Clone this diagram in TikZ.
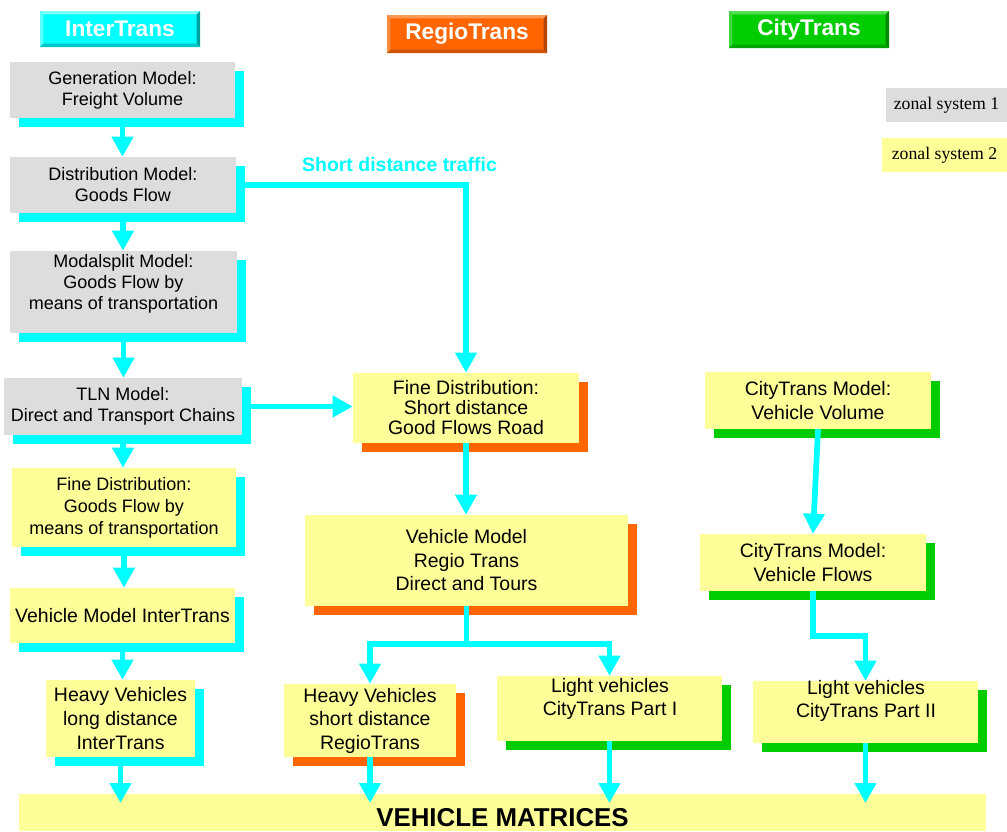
\documentclass[tikz,border=0pt]{standalone}
\usepackage{fontspec}
\setmainfont{Liberation Sans}
\newfontfamily\legendfont{Liberation Serif}
\usetikzlibrary{arrows.meta,shadows}

\definecolor{flowcyan}{HTML}{00FFFF}
\definecolor{boxgray}{HTML}{DDDDDD}
\definecolor{boxyellow}{HTML}{FFFF99}
\definecolor{regioorange}{HTML}{FF6600}
\definecolor{citygreen}{HTML}{00CC00}
\definecolor{interLight}{HTML}{80FFFF}
\definecolor{interDark}{HTML}{00A0A0}
\definecolor{regioLight}{HTML}{FF9955}
\definecolor{regioDark}{HTML}{B04600}
\definecolor{cityLight}{HTML}{55DD55}
\definecolor{cityDark}{HTML}{008A00}

\begin{document}
\begin{tikzpicture}[x=0.75pt,y=-0.75pt,
  wh/.style 2 args={minimum width=#1*0.75pt, minimum height=#2*0.75pt},
  box/.style={inner sep=0pt, align=center, draw=none},
  sA/.style={font=\fontsize{13.5}{15.75}\selectfont},
  sB/.style={font=\fontsize{14.6}{17.6}\selectfont},
  shad/.style={general shadow={fill=#1, shadow xshift=7.1pt, shadow yshift=-7.1pt}},
  grayA/.style={box, fill=boxgray, shad=flowcyan, sA},
  yelA/.style={box, fill=boxyellow, shad=flowcyan, sA},
  yelI/.style={box, fill=boxyellow, shad=flowcyan, sB},
  yelR/.style={box, fill=boxyellow, shad=regioorange, sB},
  yelC/.style={box, fill=boxyellow, shad=citygreen, sB},
  bevel/.style n args={3}{fill=#1, inner sep=0pt, text=white,
    font=\bfseries\fontsize{17}{20}\selectfont,
    path picture={
      \fill[#2] (path picture bounding box.north west) -- (path picture bounding box.north east)
        -- ([xshift=-2.6pt,yshift=-2.6pt]path picture bounding box.north east)
        -- ([xshift=2.6pt,yshift=-2.6pt]path picture bounding box.north west) -- cycle;
      \fill[#2!70!#1] (path picture bounding box.north west) -- (path picture bounding box.south west)
        -- ([xshift=2.6pt,yshift=2.6pt]path picture bounding box.south west)
        -- ([xshift=2.6pt,yshift=-2.6pt]path picture bounding box.north west) -- cycle;
      \fill[#3] (path picture bounding box.north east) -- (path picture bounding box.south east)
        -- ([xshift=-2.6pt,yshift=2.6pt]path picture bounding box.south east)
        -- ([xshift=-2.6pt,yshift=-2.6pt]path picture bounding box.north east) -- cycle;
      \fill[#3!60!#1] (path picture bounding box.south west) -- (path picture bounding box.south east)
        -- ([xshift=-2.6pt,yshift=2.6pt]path picture bounding box.south east)
        -- ([xshift=2.6pt,yshift=2.6pt]path picture bounding box.south west) -- cycle;
    }},
  legend/.style={inner sep=0pt, font=\legendfont\fontsize{13.3}{15}\selectfont},
  flow/.style={draw=flowcyan, line width=4.3pt, line join=miter,
    -{Triangle[width=15.5pt,length=15pt]}}
]
\useasboundingbox (0,0) rectangle (1007,832);

% model headers
\node[bevel={flowcyan}{interLight}{interDark}, wh={160}{36}] (hinter) at (120,29) {InterTrans};
\node[bevel={regioorange}{regioLight}{regioDark}, wh={160}{38}] (hregio) at (467,34) {RegioTrans};
\node[bevel={citygreen}{cityLight}{cityDark}, wh={160}{37}] (hcity) at (809,29.5) {CityTrans};

% legend of zonal systems
\node[legend, fill=boxgray, wh={121}{34}] (zs1) at (946.5,105) {zonal system 1};
\node[legend, fill=boxyellow, wh={125}{34}] (zs2) at (944.5,155) {zonal system 2};

% InterTrans chain
\node[grayA, wh={225}{56}] (gen) at (122.5,90) {Generation Model:\\Freight Volume};
\node[grayA, wh={226}{56}] (dist) at (123,185) {Distribution Model:\\Goods Flow};
\node[grayA, wh={227}{82}] (modal) at (123.5,292) {};
\node[sA, align=center, inner sep=0pt] (modalt) at (123.5,284) {Modalsplit Model:\\Goods Flow by\\means of transportation};
\node[grayA, wh={238}{57}] (tln) at (123,406.5) {TLN Model:\\Direct and Transport Chains};
\node[yelA, wh={224}{79}, font=\fontsize{13.5}{16.4}\selectfont] (fdl) at (124,507.5) {Fine Distribution:\\Goods Flow by\\means of transportation};
\node[yelI, wh={225}{55}] (vmi) at (122.5,615.5) {Vehicle Model InterTrans};
\node[yelI, wh={149}{77}, font=\fontsize{14.6}{18}\selectfont] (hvl) at (120.5,718.5) {Heavy Vehicles\\long distance\\InterTrans};

% RegioTrans chain
\node[yelR, wh={226}{70}, font=\fontsize{14.6}{15}\selectfont] (fdm) at (466,408) {Fine Distribution:\\Short distance\\Good Flows Road};
\node[yelR, wh={323}{91}] (vmr) at (466.5,560.5) {Vehicle Model\\Regio Trans\\Direct and Tours};
\node[yelR, wh={172}{73}] (hvs) at (370,720.5) {Heavy Vehicles\\short distance\\RegioTrans};
\node[yelC, wh={225}{65}] (lv1) at (609.5,708.5) {};
\node[sB, align=center, inner sep=0pt] (lv1t) at (610,699) {Light vehicles\\CityTrans Part I};

% CityTrans chain
\node[yelC, wh={226}{57}] (ctv) at (818,400.5) {CityTrans Model:\\Vehicle Volume};
\node[yelC, wh={226}{57}] (ctf) at (813,562.5) {CityTrans Model:\\Vehicle Flows};
\node[yelC, wh={225}{62}] (lv2) at (865.5,712) {};
\node[sB, align=center, inner sep=0pt] (lv2t) at (866,701) {Light vehicles\\CityTrans Part II};

% result bar
\node[fill=boxyellow, inner sep=0pt, wh={967}{37}, text height=20.7pt,
  font=\bfseries\fontsize{19.4}{22}\selectfont] (vm) at (502.5,812.5) {VEHICLE MATRICES};
\coordinate (vmtop) at (502.5,803);

\node[text=flowcyan, inner sep=0pt, font=\bfseries\fontsize{14.6}{17}\selectfont] (sdt) at (399.5,165) {Short distance traffic};

% flows
\draw[flow] (gen.south) -- (gen.south |- dist.north);
\draw[flow] (dist.south) -- (dist.south |- modal.north);
\draw[flow] (modal.south) -- (modal.south |- tln.north);
\draw[flow] (tln.south) -- (tln.south |- fdl.north);
\draw[flow] (fdl.south) -- (fdl.south |- vmi.north);
\draw[flow] (vmi.south) -- (vmi.south |- hvl.north);
\draw[flow] (hvl.south) -- (hvl.south |- vmtop);

\draw[flow] (dist.east) -| (fdm.north);
\draw[flow] (tln.east) -- (tln.east -| fdm.west);
\draw[flow] (fdm.south) -- (fdm.south |- vmr.north);
\draw[flow] (vmr.south) -- ++(0,38) coordinate (split) -| (hvs.north);
\draw[flow] (split) -| (lv1.north);
\draw[flow] (hvs.south) -- (hvs.south |- vmtop);
\draw[flow] (lv1.south) -- (lv1.south |- vmtop);

\draw[flow] (ctv.south) -- (ctf.north);
\draw[flow] (ctf.south) -- ++(0,45) -| (lv2.north);
\draw[flow] (lv2.south) -- (lv2.south |- vmtop);
\end{tikzpicture}
\end{document}
